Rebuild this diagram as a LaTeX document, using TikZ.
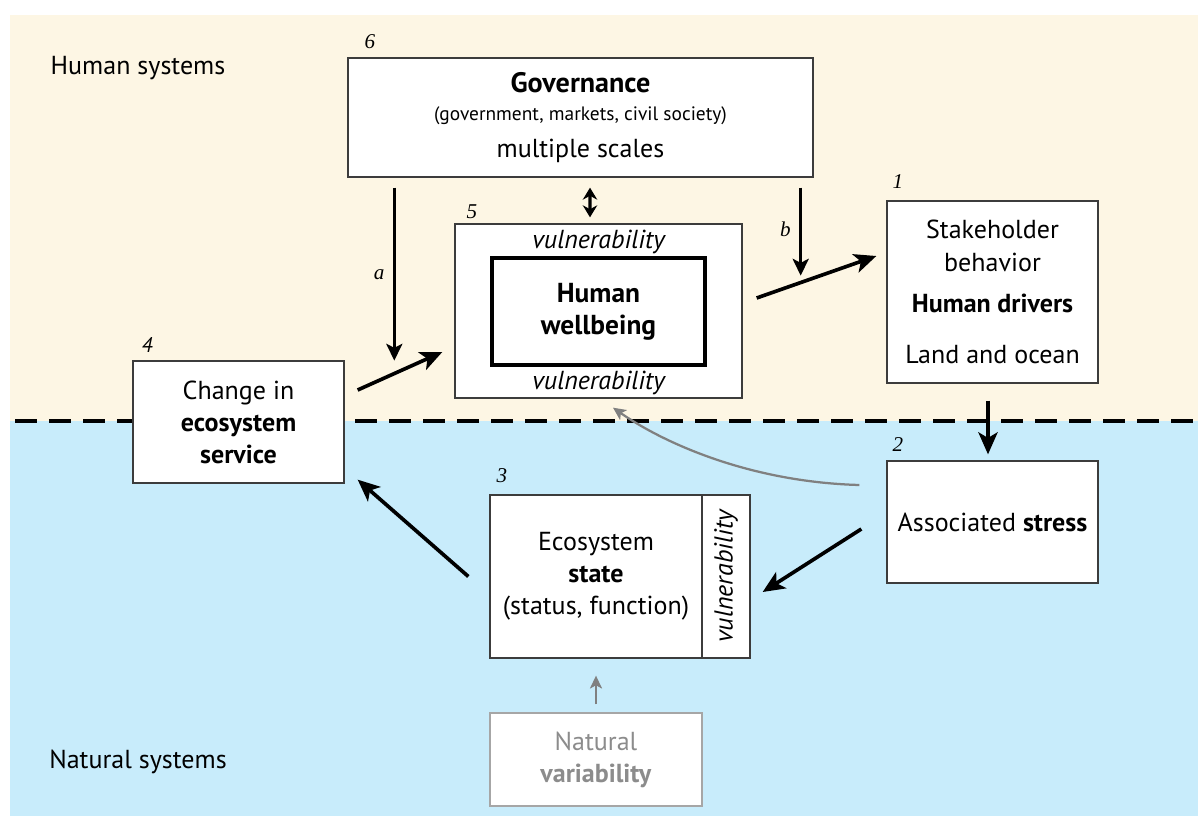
\documentclass[tikz,border=0pt]{standalone}
\usepackage{fontspec}
\setmainfont{PT Sans}
\newfontfamily\numfont{Liberation Serif}
\usetikzlibrary{arrows.meta,calc}
\definecolor{humanbg}{RGB}{253,246,228}
\definecolor{naturebg}{RGB}{200,236,251}
\definecolor{boxline}{RGB}{60,60,60}

\begin{document}
\begin{tikzpicture}[
    x=0.025cm, y=-0.025cm,
    box/.style={draw=boxline, line width=0.9pt, fill=white, align=center, inner sep=0pt, font=\fontsize{18.5}{22.8}\selectfont},
    graybox/.style={box, draw=gray!70, text=gray!90},
    region/.style={inner sep=0pt, font=\fontsize{18.5}{20}\selectfont},
    numlabel/.style={inner sep=0pt, font=\numfont\itshape\fontsize{15}{15}\selectfont},
    vul/.style={inner sep=0pt, font=\itshape\fontsize{18.5}{18.5}\selectfont},
    arrow/.style={-{Stealth[length=0.55cm,width=0.48cm,inset=0.14cm]}, line width=2.6pt},
    thinarrow/.style={-{Stealth[length=0.42cm,width=0.4cm,inset=0.1cm]}, line width=2.2pt},
    dblarrow/.style={{Stealth[length=0.3cm,width=0.36cm]}-{Stealth[length=0.3cm,width=0.36cm]}, line width=2.4pt},
    grayarrow/.style={-{Stealth[length=0.32cm,width=0.3cm,inset=0.08cm]}, line width=1.6pt, gray}
]

% background and divider
\useasboundingbox (0,0) rectangle (1198,816);
\fill[white] (0,0) rectangle (1198,816);
\fill[humanbg] (10,15) rectangle (1198,421);
\fill[naturebg] (10,421) rectangle (1198,816);
\draw[line width=2.8pt, dash pattern=on 0.55cm off 0.3cm] (15,421) -- (1198,421);

\node[region] (humsys) at (138,68) {Human systems};
\node[region] (natsys) at (138,762) {Natural systems};

% Governance
\node[box, minimum width=11.625cm, minimum height=2.975cm] (gov) at (580.5,117.5)
  {{\bfseries\fontsize{20}{20}\selectfont Governance}\\[-3pt]
   {\fontsize{13.8}{16}\selectfont (government, markets, civil society)}\\[3pt]
   multiple scales};
\node[numlabel] (n6) at (370,42) {6};

% Human wellbeing
\node[box, minimum width=7.175cm, minimum height=4.35cm] (hwb) at (598.5,311) {};
\node[vul] (vultop) at (598.5,242) {vulnerability};
\node[vul] (vulbot) at (598.5,383) {vulnerability};
\node[box, draw=black, line width=2.8pt, minimum width=5.325cm, minimum height=2.675cm,
  font=\bfseries\fontsize{19.5}{23}\selectfont] (hwbin) at (598.5,311.5) {Human\\wellbeing};
\node[numlabel] (n5) at (472,212) {5};

% Human drivers
\node[box, minimum width=5.275cm, minimum height=4.55cm] (drivers) at (992.5,292)
  {Stakeholder\\behavior\\[7pt]\textbf{Human drivers}\\[13pt]Land and ocean};
\node[numlabel] (n1) at (898,182) {1};

% Associated stress
\node[box, minimum width=5.275cm, minimum height=3.05cm] (stress) at (992.5,522)
  {Associated \textbf{stress}};
\node[numlabel] (n2) at (898,445) {2};

% Ecosystem service
\node[box, minimum width=5.275cm, minimum height=3.05cm] (service) at (238.5,422)
  {Change in\\\textbf{ecosystem}\\\textbf{service}};
\node[numlabel, font=\itshape\fontsize{15}{15}\selectfont] (n4) at (147,345) {4};

% Ecosystem state
\node[box, minimum width=5.3cm, minimum height=4.075cm] (state) at (596,576.5)
  {Ecosystem\\\textbf{state}\\(status, function)};
\node[box, minimum width=1.2cm, minimum height=4.075cm] (statevul) at (726,576.5) {};
\node[vul, rotate=90] (vulside) at (statevul) {vulnerability};
\node[numlabel] (n3) at (502,476) {3};

% Natural variability
\node[graybox, minimum width=5.3cm, minimum height=2.325cm] (natvar) at (596,759.5)
  {Natural\\\textbf{variability}};

% governance links
\draw[dblarrow] ($(gov.south)+(9.5,10)$) -- ($(hwb.north)+(-8.5,-6)$);
\draw[thinarrow] ($(gov.south west)+(47,10)$) -- ($(gov.south west)+(47,183)$)
  node[pos=0.5, left=6pt, numlabel] (la) {a};
\draw[thinarrow] ($(gov.south east)+(-13,10)$) -- ($(gov.south east)+(-13,98)$)
  node[pos=0.47, left=6pt, numlabel] (lb) {b};

% main cycle
\draw[arrow] ($(hwb.east)+(14,-13)$) -- ($(drivers.west)+(-10,-36)$);
\draw[arrow] ($(drivers.south)+(-4.5,17)$) -- ($(stress.north)+(-4.5,-6)$);
\draw[arrow] ($(stress.west)+(-25,7)$) -- ($(statevul.east)+(12,15.5)$);
\draw[arrow] ($(state.west)+(-21,0)$) -- ($(service.south east)+(13,-4)$);
\draw[arrow] ($(service.east)+(13,-32)$) -- ($(hwb.west)+(-12,41)$);

% grey links
\draw[grayarrow] ($(stress.west)+(-27,-37)$) .. controls +(-110,-3) and +(50,35) .. ($(hwb.south)+(14.5,9)$);
\draw[grayarrow] ($(natvar.north)+(0,-8)$) -- ($(state.south)+(0,17)$);

\end{tikzpicture}
\end{document}
